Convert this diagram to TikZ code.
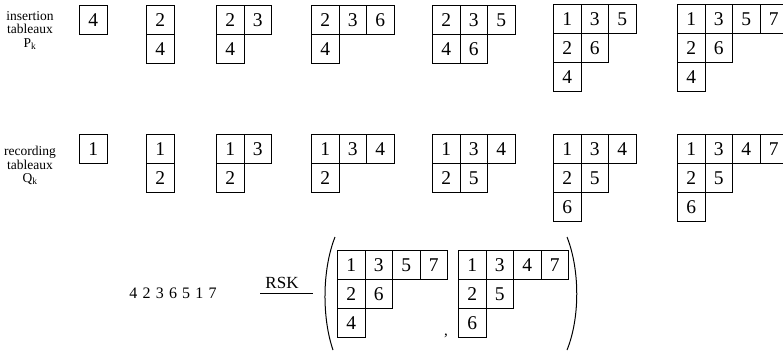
\documentclass[tikz,border=0pt]{standalone}
\usepackage{fontspec}
\setmainfont{Liberation Serif}
\newcommand\mytabrow[4]{%
  \foreach \v [count=\i from 0] in {#4} {%
    \node[cell] (#1-\i) at ({#2+\i*27.5},{#3}) {\v};}}
\begin{document}
\begin{tikzpicture}[x=1pt,y=-1pt,
  cell/.style={draw,line width=1pt,minimum width=27.5pt,minimum height=29pt,
    inner sep=0pt,anchor=north west,font=\fontsize{19.5}{19.5}\selectfont},
  lbl/.style={align=center,inner sep=0pt,font=\fontsize{13.5}{13.5}\selectfont},
  paren/.style={line width=1pt}]
\useasboundingbox (0,0) rectangle (783,351);
% labels
\node[lbl,anchor=north] (lp) at (30,11) {insertion\\tableaux\\P\textsubscript{k}};
\node[lbl,anchor=north] (lq) at (30,146) {recording\\tableaux\\Q\textsubscript{k}};
% insertion tableaux
\mytabrow{p1a}{79}{5}{4}
\mytabrow{p2a}{146}{5}{2}
\mytabrow{p2b}{146}{34}{4}
\mytabrow{p3a}{216}{5}{2,3}
\mytabrow{p3b}{216}{34}{4}
\mytabrow{p4a}{311}{5}{2,3,6}
\mytabrow{p4b}{311}{34}{4}
\mytabrow{p5a}{432}{5}{2,3,5}
\mytabrow{p5b}{432}{34}{4,6}
\mytabrow{p6a}{553}{4}{1,3,5}
\mytabrow{p6b}{553}{33}{2,6}
\mytabrow{p6c}{553}{62}{4}
\mytabrow{p7a}{677}{4}{1,3,5,7}
\mytabrow{p7b}{677}{33}{2,6}
\mytabrow{p7c}{677}{62}{4}
% recording tableaux
\mytabrow{q1a}{79}{134}{1}
\mytabrow{q2a}{146}{134}{1}
\mytabrow{q2b}{146}{163}{2}
\mytabrow{q3a}{216}{134}{1,3}
\mytabrow{q3b}{216}{163}{2}
\mytabrow{q4a}{311}{134}{1,3,4}
\mytabrow{q4b}{311}{163}{2}
\mytabrow{q5a}{432}{134}{1,3,4}
\mytabrow{q5b}{432}{163}{2,5}
\mytabrow{q6a}{553}{134}{1,3,4}
\mytabrow{q6b}{553}{163}{2,5}
\mytabrow{q6c}{553}{192}{6}
\mytabrow{q7a}{677}{134}{1,3,4,7}
\mytabrow{q7b}{677}{163}{2,5}
\mytabrow{q7c}{677}{192}{6}
% final result
\node[font=\fontsize{16}{16}\selectfont,inner sep=0pt] (w) at (173,293)
  {4\kern5.2pt 2\kern5.2pt 3\kern5.2pt 6\kern5.2pt 5\kern5.2pt 1\kern5.2pt 7};
\node[font=\fontsize{17}{17}\selectfont,inner sep=0pt,anchor=base] (rsk) at (282,288) {RSK};
\coordinate (a1) at (260,293);
\coordinate (a2) at (313,293);
\draw[line width=0.8pt] (a1) -- (a2);
\mytabrow{fpa}{337}{250}{1,3,5,7}
\mytabrow{fpb}{337}{279}{2,6}
\mytabrow{fpc}{337}{308}{4}
\node[font=\fontsize{15}{15}\selectfont,inner sep=0pt,anchor=base] (comma) at (446,335) {,};
\mytabrow{fqa}{458}{250}{1,3,4,7}
\mytabrow{fqb}{458}{279}{2,5}
\mytabrow{fqc}{458}{308}{6}
\draw[paren] (335,237) .. controls (322,270) and (322,318) .. (333,350);
\draw[paren] (567,237) .. controls (580,270) and (580,318) .. (567,350);
\end{tikzpicture}
\end{document}
